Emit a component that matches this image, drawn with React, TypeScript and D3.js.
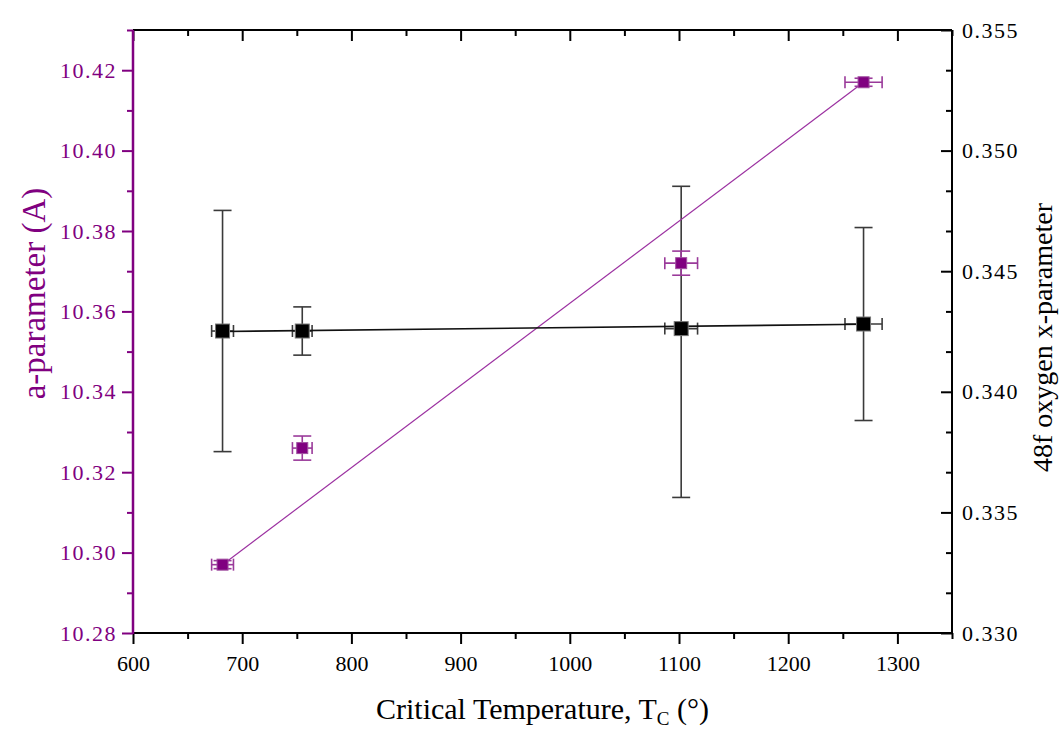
import { useEffect, useRef } from 'react'
import * as d3 from 'd3'

// critical temperature (deg) and its error
const temps = [682, 755, 1102, 1269]
const tempErr = [10, 9, 15, 17]

// a-parameter (left axis)
const aParam = [10.297, 10.326, 10.372, 10.417]
const aErr = [0.001, 0.003, 0.003, 0.001]

// 48f oxygen x-parameter (right axis)
const oxParam = [0.34252, 0.34252, 0.34262, 0.34281]
const oxErrUp = [0.005, 0.001, 0.0059, 0.004]
const oxErrDown = [0.005, 0.001, 0.007, 0.004]

// linear fits
const fitX = [682, 1269]
const aFit = [10.297, 10.417]
const oxFit = [0.3425, 0.3428]

const xTicks = [600, 700, 800, 900, 1000, 1100, 1200, 1300]
const leftTicks = [10.28, 10.3, 10.32, 10.34, 10.36, 10.38, 10.4, 10.42]
const rightTicks = [0.33, 0.335, 0.34, 0.345, 0.35, 0.355]

const PURPLE = '#800080'
const FONT = '"Liberation Serif", "Times New Roman", serif'

function App() {
  const ref = useRef<SVGSVGElement | null>(null)

  useEffect(() => {
    const svgEl = ref.current
    if (!svgEl) return
    const svg = d3.select(svgEl)
    svg.selectAll('*').remove()

    const left = 133
    const right = 952
    const top = 30
    const bottom = 633

    const x = d3.scaleLinear().domain([600, 1350]).range([left, right])
    const yA = d3.scaleLinear().domain([10.28, 10.43]).range([bottom, top])
    const yO = d3.scaleLinear().domain([0.33, 0.355]).range([bottom, top])

    svg.append('rect').attr('width', 1061).attr('height', 731).attr('fill', '#fff')

    const xMinor = d3.range(650, 1351, 100)
    const leftMinor = d3.range(10.29, 10.435, 0.02)
    const rightMinor = d3.range(0, 15).map((i) => 0.33 + (i * 0.005) / 3).filter((_, i) => i % 3 !== 0)

    const style = (g: any, color: string, size = 21, spacing = 0) => {
      g.select('.domain').remove()
      g.selectAll('line').attr('stroke', color).attr('stroke-width', 2)
      g.selectAll('text')
        .attr('fill', color)
        .attr('font-family', FONT)
        .attr('font-size', size)
        .attr('letter-spacing', spacing)
    }

    // bottom axis
    svg
      .append('g')
      .attr('transform', `translate(0,${bottom})`)
      .call(d3.axisBottom(x).tickValues(xTicks).tickSize(11).tickPadding(11).tickFormat(d3.format('d')))
      .call((g) => style(g, '#000', 22))
    svg
      .append('g')
      .attr('transform', `translate(0,${bottom})`)
      .call(d3.axisBottom(x).tickValues(xMinor).tickSize(6).tickFormat(() => ''))
      .call((g) => style(g, '#000'))

    // top axis (inward ticks)
    svg
      .append('g')
      .attr('transform', `translate(0,${top})`)
      .call(d3.axisTop(x).tickValues(xTicks).tickSize(-11).tickFormat(() => ''))
      .call((g) => style(g, '#000'))
    svg
      .append('g')
      .attr('transform', `translate(0,${top})`)
      .call(d3.axisTop(x).tickValues(xMinor).tickSize(-6).tickFormat(() => ''))
      .call((g) => style(g, '#000'))

    // left axis
    svg
      .append('g')
      .attr('transform', `translate(${left},0)`)
      .call(d3.axisLeft(yA).tickValues(leftTicks).tickSize(11).tickPadding(5).tickFormat(d3.format('.2f')))
      .call((g) => style(g, PURPLE, 22, 1.5))
    svg
      .append('g')
      .attr('transform', `translate(${left},0)`)
      .call(d3.axisLeft(yA).tickValues(leftMinor).tickSize(6).tickFormat(() => ''))
      .call((g) => style(g, PURPLE))

    // right axis (inward ticks)
    svg
      .append('g')
      .attr('transform', `translate(${right},0)`)
      .call(d3.axisRight(yO).tickValues(rightTicks).tickSize(-11).tickPadding(10).tickFormat(d3.format('.3f')))
      .call((g) => style(g, '#000', 22, 1.5))
    svg
      .append('g')
      .attr('transform', `translate(${right},0)`)
      .call(d3.axisRight(yO).tickValues(rightMinor).tickSize(-6).tickFormat(() => ''))
      .call((g) => style(g, '#000'))

    // frame
    svg.append('line').attr('x1', left).attr('x2', right).attr('y1', top).attr('y2', top).attr('stroke', '#000').attr('stroke-width', 2)
    svg.append('line').attr('x1', left).attr('x2', right).attr('y1', bottom).attr('y2', bottom).attr('stroke', '#000').attr('stroke-width', 2)
    svg.append('line').attr('x1', right).attr('x2', right).attr('y1', top).attr('y2', bottom).attr('stroke', '#000').attr('stroke-width', 2)
    svg.append('line').attr('x1', left).attr('x2', left).attr('y1', top).attr('y2', bottom + 1).attr('stroke', PURPLE).attr('stroke-width', 2.5)

    const capV = 6
    const capH = 9

    const errorBars = (
      yScale: d3.ScaleLinear<number, number>,
      vals: number[],
      up: number[],
      down: number[],
      color: string,
      width: number
    ) => {
      const g = svg.append('g').attr('stroke', color).attr('stroke-width', width)
      temps.forEach((t, i) => {
        const cx = x(t)
        const cy = yScale(vals[i])
        const y1 = yScale(vals[i] + up[i])
        const y2 = yScale(vals[i] - down[i])
        const x1 = x(t - tempErr[i])
        const x2 = x(t + tempErr[i])
        g.append('line').attr('x1', cx).attr('x2', cx).attr('y1', y1).attr('y2', y2)
        g.append('line').attr('x1', cx - capH).attr('x2', cx + capH).attr('y1', y1).attr('y2', y1)
        g.append('line').attr('x1', cx - capH).attr('x2', cx + capH).attr('y1', y2).attr('y2', y2)
        g.append('line').attr('x1', x1).attr('x2', x2).attr('y1', cy).attr('y2', cy)
        g.append('line').attr('x1', x1).attr('x2', x1).attr('y1', cy - capV).attr('y2', cy + capV)
        g.append('line').attr('x1', x2).attr('x2', x2).attr('y1', cy - capV).attr('y2', cy + capV)
      })
    }

    errorBars(yO, oxParam, oxErrUp, oxErrDown, '#3a3a3a', 1.6)
    errorBars(yA, aParam, aErr, aErr, '#9a3a9a', 1.6)

    // fit lines
    const lineA = d3
      .line<number>()
      .x((d) => x(d))
      .y((_, i) => yA(aFit[i]))
    svg.append('path').attr('d', lineA(fitX)).attr('fill', 'none').attr('stroke', '#9b30a0').attr('stroke-width', 1.2)

    const lineO = d3
      .line<number>()
      .x((d) => x(d))
      .y((_, i) => yO(oxFit[i]))
    svg.append('path').attr('d', lineO(fitX)).attr('fill', 'none').attr('stroke', '#111').attr('stroke-width', 1.6)

    // markers
    const sA = 11
    svg
      .append('g')
      .selectAll('rect')
      .data(temps)
      .enter()
      .append('rect')
      .attr('x', (d) => x(d) - sA / 2)
      .attr('y', (_, i) => yA(aParam[i]) - sA / 2)
      .attr('width', sA)
      .attr('height', sA)
      .attr('fill', PURPLE)
      .attr('stroke', '#a050a0')
      .attr('stroke-width', 1)

    const sO = 14
    svg
      .append('g')
      .selectAll('rect')
      .data(temps)
      .enter()
      .append('rect')
      .attr('x', (d) => x(d) - sO / 2)
      .attr('y', (_, i) => yO(oxParam[i]) - sO / 2)
      .attr('width', sO)
      .attr('height', sO)
      .attr('fill', '#000')
      .attr('stroke', '#777')
      .attr('stroke-width', 1)

    // axis titles
    svg
      .append('text')
      .attr('transform', `translate(45,${(top + bottom) / 2 - 38}) rotate(-90)`)
      .attr('text-anchor', 'middle')
      .attr('font-family', FONT)
      .attr('font-size', 33)
      .attr('fill', PURPLE)
      .text('a-parameter (A)')

    svg
      .append('text')
      .attr('transform', `translate(1052,${(top + bottom) / 2 + 6}) rotate(-90)`)
      .attr('text-anchor', 'middle')
      .attr('font-family', FONT)
      .attr('font-size', 28)
      .attr('fill', '#000')
      .text('48f oxygen x-parameter')

    const xt = svg
      .append('text')
      .attr('x', (left + right) / 2)
      .attr('y', 719)
      .attr('text-anchor', 'middle')
      .attr('font-family', FONT)
      .attr('font-size', 30)
      .attr('fill', '#000')
    xt.append('tspan').text('Critical Temperature, T')
    xt.append('tspan').attr('font-size', 19).attr('dy', 6).text('C')
    xt.append('tspan').attr('dy', -6).text(' (°)')
  }, [])

  return (
    <svg
      ref={ref}
      width={1061}
      height={731}
      style={{ position: 'absolute', left: 0, top: 0, display: 'block' }}
    />
  )
}

export default App
